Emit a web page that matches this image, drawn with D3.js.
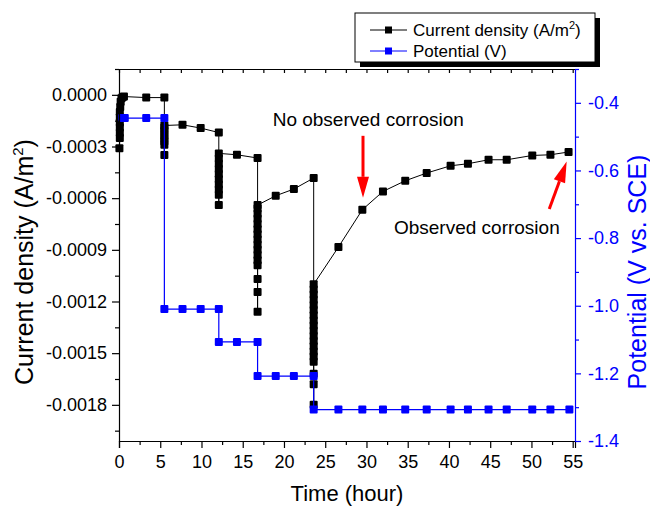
<!DOCTYPE html>
<html>
<head>
<meta charset="utf-8">
<script src="https://cdn.jsdelivr.net/npm/d3@7"></script>
<style>
  body { margin: 0; background: #fff; }
  text { font-family: "Liberation Sans", Arial, sans-serif; }
</style>
</head>
<body>
<script>
// current density series (A/m2); repeated times are the dense sampling right after each potential step
const timeCurrent = [
  0.05, 0.1, 0.1, 0.1, 0.1, 0.1, 0.1, 0.15, 0.2, 0.3, 0.45, 0.6,
  3.3, 5.5,
  5.5, 5.5, 5.5, 5.5, 5.5, 5.5, 5.5, 5.5,
  7.7, 9.9, 12.1,
  12.1, 12.1, 12.1, 12.1, 12.1, 12.1, 12.1, 12.1, 12.1, 12.1,
  14.3, 16.8,
  16.8, 16.8, 16.8, 16.8, 16.8, 16.8, 16.8, 16.8, 16.8, 16.8, 16.8, 16.8, 16.8, 16.8, 16.8, 16.8,
  19.0, 21.2, 23.6,
  23.6, 23.6, 23.6, 23.6, 23.6, 23.6, 23.6, 23.6, 23.6, 23.6, 23.6, 23.6, 23.6, 23.6, 23.6, 23.6, 23.6, 23.6, 23.6,
  26.6, 29.5, 32.0, 34.7, 37.3, 40.2, 42.3, 44.8, 47.0, 50.1, 52.3, 54.5
];
const current = [
  -0.00031, -0.00025, -0.00022, -0.00019, -0.00016, -0.00013, -0.0001, -0.00007, -0.00004, -0.00002, -0.000012, -0.00001,
  -0.000016, -0.000016,
  -0.00035, -0.00029, -0.00027, -0.00025, -0.00023, -0.00021, -0.00019, -0.000178,
  -0.000174, -0.000193, -0.000219,
  -0.00064, -0.00058, -0.00055, -0.00052, -0.00049, -0.00046, -0.00043, -0.0004, -0.00037, -0.00034,
  -0.000348, -0.000367,
  -0.00126, -0.001145, -0.00107, -0.00099, -0.00096, -0.00093, -0.0009, -0.00087, -0.00084, -0.00081, -0.00078, -0.00075, -0.00072, -0.00069, -0.00066, -0.00064,
  -0.000586, -0.000547, -0.000483,
  -0.0018, -0.00168, -0.00162, -0.00155, -0.00152, -0.00149, -0.00146, -0.00143, -0.0014, -0.00137, -0.00134, -0.00131, -0.00128, -0.00125, -0.00122, -0.00119, -0.00116, -0.00113, -0.0011,
  -0.000884, -0.000667, -0.000561, -0.000499, -0.000454, -0.000412, -0.0004, -0.000377, -0.000377, -0.000352, -0.000348, -0.000332
];

// applied potential (V vs. SCE)
const timePotential = [0.4, 0.7, 3.3, 5.5, 5.5, 7.7, 9.9, 12.1, 12.1, 14.3, 16.8, 16.8, 19.0, 21.2, 23.6, 23.6,
  26.6, 29.5, 32.0, 34.7, 37.3, 40.2, 42.3, 44.8, 47.0, 50.1, 52.3, 54.6];
const potential = [-0.445, -0.445, -0.445, -0.445, -1.01, -1.01, -1.01, -1.01, -1.107, -1.107, -1.107, -1.208, -1.208, -1.208, -1.208, -1.307,
  -1.307, -1.307, -1.307, -1.307, -1.307, -1.307, -1.307, -1.307, -1.307, -1.307, -1.307, -1.307];

const xTicks = [0, 5, 10, 15, 20, 25, 30, 35, 40, 45, 50, 55];
const leftTicks = [0, -0.0003, -0.0006, -0.0009, -0.0012, -0.0015, -0.0018];
const leftTickLabels = ["0.0000", "-0.0003", "-0.0006", "-0.0009", "-0.0012", "-0.0015", "-0.0018"];
const rightTicks = [-0.4, -0.6, -0.8, -1.0, -1.2, -1.4];
const rightTickLabels = ["-0.4", "-0.6", "-0.8", "-1.0", "-1.2", "-1.4"];

const width = 650, height = 507;
const plotL = 119, plotR = 575, plotT = 69, plotB = 441;
const blue = "#0000ff";

const svg = d3.select("body").append("svg").attr("width", width).attr("height", height);

const x = d3.scaleLinear().domain([0, 55.28]).range([plotL, plotR]);
const yL = d3.scaleLinear().domain([-0.00201, 0.00015]).range([plotB, plotT]);
const yR = d3.scaleLinear().domain([-1.4, -0.3]).range([plotB, plotT]);

// minor ticks halfway between majors
const xMinor = d3.range(2.5, 55, 5);
const leftMinor = d3.range(0.00015, -0.0020, -0.0003);
const rightMinor = [-0.3, -0.5, -0.7, -0.9, -1.1, -1.3];

function styleAxis(g, color) {
  g.select(".domain").attr("stroke", color).attr("stroke-width", 1.2);
  g.selectAll(".tick line").attr("stroke", color).attr("stroke-width", 1.2);
  g.selectAll(".tick text").attr("fill", color).attr("font-size", 18).attr("font-family", "Liberation Sans, Arial, sans-serif");
}

const line = d3.line();

svg.append("path")
  .attr("d", line(timeCurrent.map((t, i) => [x(t), yL(current[i])])))
  .attr("fill", "none").attr("stroke", "#000").attr("stroke-width", 1);

svg.append("g").selectAll("rect")
  .data(timeCurrent.map((t, i) => [t, current[i]]))
  .join("rect")
  .attr("x", d => x(d[0]) - 4).attr("y", d => yL(d[1]) - 4)
  .attr("width", 8).attr("height", 8).attr("rx", 1)
  .attr("fill", "#000");

svg.append("path")
  .attr("d", line(timePotential.map((t, i) => [x(t), yR(potential[i])])))
  .attr("fill", "none").attr("stroke", blue).attr("stroke-width", 1.2);

svg.append("g").selectAll("rect")
  .data(timePotential.map((t, i) => [t, potential[i]]))
  .join("rect")
  .attr("x", d => x(d[0]) - 4).attr("y", d => yR(d[1]) - 4)
  .attr("width", 8).attr("height", 8).attr("rx", 1)
  .attr("fill", blue);

// bottom axis
svg.append("g").attr("transform", `translate(0,${plotB})`)
  .call(d3.axisBottom(x).tickValues(xTicks).tickSize(7).tickPadding(7).tickFormat(d3.format("d")))
  .call(g => styleAxis(g, "#000"));
svg.append("g").attr("transform", `translate(0,${plotB})`)
  .call(d3.axisBottom(x).tickValues(xMinor).tickSize(4).tickFormat(""))
  .call(g => { g.select(".domain").remove(); g.selectAll("line").attr("stroke", "#000").attr("stroke-width", 1.2); });

// top frame with inward ticks
svg.append("g").attr("transform", `translate(0,${plotT})`)
  .call(d3.axisBottom(x).tickValues(xTicks.concat(xMinor)).tickSize(4).tickSizeOuter(0).tickFormat(""))
  .call(g => styleAxis(g, "#000"));

// left axis
svg.append("g").attr("transform", `translate(${plotL},0)`)
  .call(d3.axisLeft(yL).tickValues(leftTicks).tickSize(7).tickPadding(5).tickSizeOuter(0)
    .tickFormat((d, i) => leftTickLabels[i]))
  .call(g => styleAxis(g, "#000"));
svg.append("g").attr("transform", `translate(${plotL},0)`)
  .call(d3.axisLeft(yL).tickValues(leftMinor).tickSize(4).tickFormat(""))
  .call(g => { g.select(".domain").remove(); g.selectAll("line").attr("stroke", "#000").attr("stroke-width", 1.2); });

// right axis (potential)
svg.append("g").attr("transform", `translate(${plotR},0)`)
  .call(d3.axisRight(yR).tickValues(rightTicks).tickSize(6).tickPadding(7).tickSizeOuter(0)
    .tickFormat((d, i) => rightTickLabels[i]))
  .call(g => styleAxis(g, blue));
svg.append("g").attr("transform", `translate(${plotR},0)`)
  .call(d3.axisRight(yR).tickValues(rightMinor).tickSize(4).tickFormat(""))
  .call(g => { g.select(".domain").remove(); g.selectAll("line").attr("stroke", blue).attr("stroke-width", 1.2); });

// axis titles
svg.append("text")
  .attr("x", (plotL + plotR) / 2).attr("y", 501)
  .attr("text-anchor", "middle").attr("font-size", 22)
  .text("Time (hour)");

const ltitle = svg.append("text")
  .attr("transform", "translate(33,262) rotate(-90)")
  .attr("text-anchor", "middle").attr("font-size", 25);
ltitle.append("tspan").text("Current density (A/m");
ltitle.append("tspan").attr("font-size", 15).attr("dy", -10).text("2");
ltitle.append("tspan").attr("dy", 10).text(")");

svg.append("text")
  .attr("transform", "translate(646,272) rotate(-90)")
  .attr("text-anchor", "middle").attr("font-size", 25).attr("fill", blue)
  .text("Potential (V vs. SCE)");

// annotations
const red = "#ff0000";
function arrow(t0, v0, t1, v1) {
  const x0 = x(t0), y0 = yL(v0), x1 = x(t1), y1 = yL(v1);
  const a = Math.atan2(y1 - y0, x1 - x0), head = 21, half = 6;
  const bx = x1 - head * Math.cos(a), by = y1 - head * Math.sin(a);
  svg.append("line").attr("x1", x0).attr("y1", y0).attr("x2", bx).attr("y2", by)
    .attr("stroke", red).attr("stroke-width", 3);
  svg.append("path")
    .attr("d", `M${x1},${y1}L${bx - half * Math.sin(a)},${by + half * Math.cos(a)}L${bx + half * Math.sin(a)},${by - half * Math.cos(a)}Z`)
    .attr("fill", red);
}
svg.append("text").attr("x", x(18.63)).attr("y", yL(-0.00018)).attr("font-size", 19).text("No observed corrosion");
arrow(29.58, -0.000238, 29.58, -0.000598);
svg.append("text").attr("x", x(33.33)).attr("y", yL(-0.000807)).attr("font-size", 19).text("Observed corrosion");
arrow(52.16, -0.000663, 54.27, -0.000387);

// legend with drop shadow
const lg = svg.append("g");
lg.append("rect").attr("x", 360).attr("y", 18).attr("width", 240).attr("height", 49).attr("fill", "#000");
lg.append("rect").attr("x", 355).attr("y", 13).attr("width", 240).attr("height", 49)
  .attr("fill", "#fff").attr("stroke", "#000").attr("stroke-width", 1);
const legendItems = [
  { color: "#000", label: "Current density (A/m", sup: "2", y: 30 },
  { color: blue, label: "Potential (V)", sup: null, y: 51 }
];
legendItems.forEach(d => {
  lg.append("line").attr("x1", 370).attr("x2", 407).attr("y1", d.y).attr("y2", d.y)
    .attr("stroke", d.color).attr("stroke-width", 1);
  lg.append("rect").attr("x", 385).attr("y", d.y - 3.5).attr("width", 7).attr("height", 7).attr("fill", d.color);
  const t = lg.append("text").attr("x", 413).attr("y", d.y + 6).attr("font-size", 17).text(d.label);
  if (d.sup) {
    t.append("tspan").attr("font-size", 11).attr("dy", -7).text(d.sup);
    t.append("tspan").attr("dy", 7).text(")");
  }
});
</script>
</body>
</html>
